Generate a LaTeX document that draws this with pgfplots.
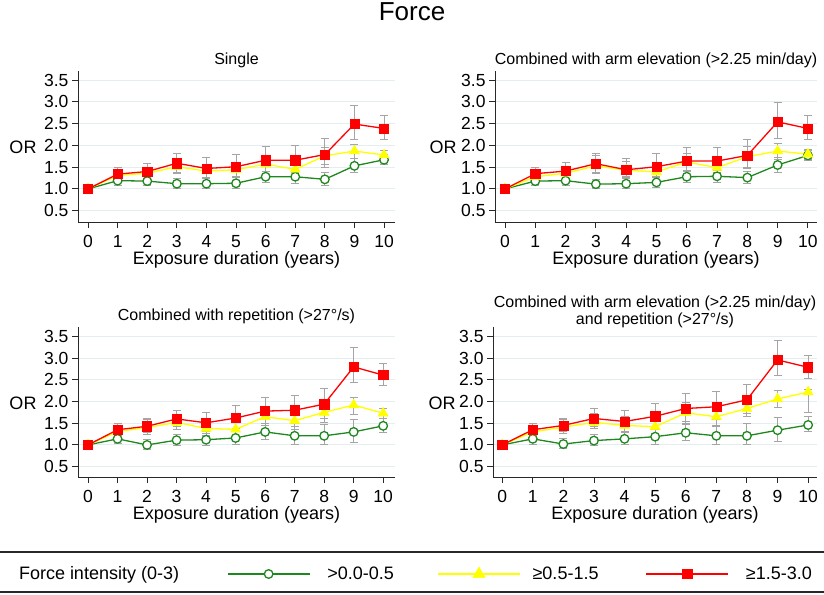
\documentclass[border=0pt]{standalone}
\usepackage{fontspec}
\setmainfont{Liberation Sans}
\usepackage{pgfplots}
\pgfplotsset{compat=1.18}
\usepackage{pgfplotstable}

\definecolor{sgreen}{RGB}{30,135,30}
\definecolor{syellow}{RGB}{255,255,0}
\definecolor{sred}{RGB}{255,0,0}
\definecolor{errgray}{RGB}{165,165,165}
\definecolor{gridc}{RGB}{228,237,240}
\definecolor{axisc}{RGB}{40,40,40}

\pgfplotstableread{
x g glo ghi y ylo yhi r rlo rhi
0 1.00 1.00 1.00 1.00 1.00 1.00 1.00 1.00 1.00
1 1.19 1.09 1.30 1.31 1.20 1.44 1.34 1.20 1.49
2 1.18 1.08 1.29 1.36 1.23 1.50 1.40 1.25 1.59
3 1.12 1.01 1.23 1.51 1.36 1.66 1.59 1.38 1.81
4 1.12 1.01 1.24 1.41 1.27 1.57 1.47 1.27 1.72
5 1.13 1.01 1.27 1.44 1.29 1.60 1.51 1.28 1.80
6 1.28 1.15 1.41 1.57 1.41 1.75 1.66 1.40 1.98
7 1.28 1.13 1.41 1.45 1.30 1.62 1.66 1.38 2.00
8 1.22 1.08 1.38 1.76 1.56 1.96 1.79 1.50 2.16
9 1.53 1.37 1.70 1.87 1.69 2.03 2.49 2.14 2.92
10 1.67 1.56 1.80 1.78 1.66 1.88 2.39 2.13 2.69
}\tabA

\pgfplotstableread{
x g glo ghi y ylo yhi r rlo rhi
0 1.00 1.00 1.00 1.00 1.00 1.00 1.00 1.00 1.00
1 1.18 1.08 1.28 1.28 1.18 1.42 1.35 1.22 1.50
2 1.19 1.09 1.30 1.36 1.24 1.52 1.41 1.25 1.60
3 1.11 1.00 1.22 1.53 1.36 1.76 1.58 1.38 1.81
4 1.12 1.02 1.23 1.43 1.28 1.62 1.44 1.26 1.70
5 1.15 1.03 1.27 1.39 1.26 1.56 1.51 1.28 1.81
6 1.28 1.14 1.42 1.62 1.42 1.82 1.64 1.40 1.96
7 1.29 1.15 1.43 1.49 1.32 1.68 1.64 1.38 1.96
8 1.26 1.12 1.40 1.74 1.50 1.98 1.77 1.48 2.13
9 1.55 1.39 1.72 1.87 1.68 2.04 2.54 2.17 2.99
10 1.77 1.66 1.88 1.80 1.68 1.90 2.39 2.13 2.69
}\tabB

\pgfplotstableread{
x g glo ghi y ylo yhi r rlo rhi
0 1.00 1.00 1.00 1.00 1.00 1.00 1.00 1.00 1.00
1 1.14 1.04 1.26 1.31 1.18 1.45 1.35 1.22 1.49
2 1.00 0.90 1.12 1.40 1.24 1.58 1.43 1.28 1.60
3 1.11 0.98 1.24 1.52 1.36 1.68 1.60 1.42 1.80
4 1.12 0.98 1.26 1.38 1.22 1.60 1.51 1.30 1.76
5 1.16 1.00 1.32 1.36 1.20 1.58 1.62 1.38 1.91
6 1.30 1.12 1.50 1.65 1.45 1.87 1.78 1.50 2.10
7 1.21 1.02 1.42 1.56 1.36 1.80 1.80 1.50 2.15
8 1.21 1.00 1.47 1.75 1.52 2.00 1.94 1.62 2.31
9 1.30 1.06 1.58 1.92 1.70 2.10 2.80 2.43 3.24
10 1.44 1.28 1.60 1.73 1.60 1.85 2.61 2.37 2.89
}\tabC

\pgfplotstableread{
x g glo ghi y ylo yhi r rlo rhi
0 1.00 1.00 1.00 1.00 1.00 1.00 1.00 1.00 1.00
1 1.14 1.02 1.26 1.30 1.18 1.45 1.35 1.22 1.49
2 1.02 0.92 1.14 1.41 1.26 1.58 1.45 1.30 1.62
3 1.10 0.98 1.24 1.52 1.38 1.72 1.61 1.42 1.84
4 1.14 1.00 1.28 1.45 1.30 1.65 1.54 1.32 1.79
5 1.19 1.02 1.36 1.42 1.26 1.62 1.66 1.40 1.96
6 1.28 1.10 1.48 1.74 1.50 1.98 1.84 1.55 2.18
7 1.21 1.02 1.43 1.65 1.46 1.90 1.88 1.58 2.23
8 1.21 1.00 1.49 1.84 1.66 2.08 2.04 1.72 2.40
9 1.34 1.08 1.64 2.06 1.86 2.25 2.96 2.60 3.41
10 1.46 1.30 1.66 2.22 1.76 2.28 2.79 2.54 3.07
}\tabD

\pgfplotsset{
  panel/.style={
    scale only axis, anchor=south west,
    axis x line*=bottom, axis y line*=left,
    axis line style={-, draw=axisc, line width=0.9bp},
    xtick={0,...,10}, ytick={0.5,1,1.5,2,2.5,3,3.5},
    tick align=outside, major tick length=6bp,
    tick style={draw=axisc, line width=0.9bp},
    ymajorgrids, grid style={draw=gridc, line width=1bp},
    /pgf/number format/assume math mode=true,
    yticklabel style={/pgf/number format/.cd, fixed, fixed zerofill, precision=1},
    tick label style={font=\fontsize{17.5bp}{20bp}\selectfont},
    xticklabel style={yshift=-3.5bp},
    label style={font=\fontsize{18bp}{21bp}\selectfont},
    xlabel={Exposure duration (years)},
    xlabel style={at={(axis description cs:0.5,0)}, anchor=center, yshift=-38bp},
    ylabel={OR},
    ylabel style={rotate=-90, at={(axis description cs:0,0.5)}, anchor=center, xshift=-55bp, yshift=-1bp},
    title style={font=\fontsize{16bp}{17bp}\selectfont, at={(axis description cs:0.5,1)}, anchor=center, yshift=5bp, align=center},
    clip=false,
  },
  ebar/.style={forget plot, draw=none, mark=none,
    error bars/.cd, y dir=both, y explicit,
    error bar style={draw=errgray, line width=0.9bp, solid},
    error mark options={rotate=90, draw=errgray, mark size=4bp, line width=0.9bp}},
  gline/.style={draw=sgreen, line width=1.3bp, mark=*, mark size=4.3bp,
    mark options={fill=white, draw=sgreen, line width=1.3bp}},
  yline/.style={draw=syellow, line width=1.3bp, mark=triangle*, mark size=5.8bp,
    mark options={fill=syellow, draw=syellow, line width=0.5bp}},
  rline/.style={draw=sred, line width=1.3bp, mark=square*, mark size=4.6bp,
    mark options={fill=sred, draw=sred, line width=0.5bp}},
}

\newcommand{\panelplots}[1]{%
  \addplot[ebar] table[x=x, y=g, y error plus expr=\thisrow{ghi}-\thisrow{g}, y error minus expr=\thisrow{g}-\thisrow{glo}] {#1};
  \addplot[ebar] table[x=x, y=y, y error plus expr=\thisrow{yhi}-\thisrow{y}, y error minus expr=\thisrow{y}-\thisrow{ylo}] {#1};
  \addplot[ebar] table[x=x, y=r, y error plus expr=\thisrow{rhi}-\thisrow{r}, y error minus expr=\thisrow{r}-\thisrow{rlo}] {#1};
  \addplot[gline, forget plot] table[x=x, y=g] {#1};
  \addplot[yline, forget plot] table[x=x, y=y] {#1};
  \addplot[rline, forget plot] table[x=x, y=r] {#1};
}

\begin{document}
\begin{tikzpicture}
\path[use as bounding box] (0,0) rectangle (824bp,595bp);

\node[font=\fontsize{26bp}{30bp}\selectfont] at (412bp,583bp) {Force};

\begin{axis}[panel, at={(78bp,373bp)}, width=317bp, height=151bp,
  xmin=-0.34, xmax=10.37, ymin=0.24, ymax=3.71, title={Single}]
\panelplots{\tabA}
\end{axis}

\begin{axis}[panel, at={(495bp,373bp)}, width=322bp, height=151bp,
  xmin=-0.33, xmax=10.30, ymin=0.24, ymax=3.71,
  ylabel style={xshift=3bp},
  title={Combined with arm elevation (>2.25 min/day)}]
\panelplots{\tabB}
\end{axis}

\begin{axis}[panel, at={(78bp,118bp)}, width=317bp, height=150bp,
  xmin=-0.34, xmax=10.40, ymin=0.26, ymax=3.72,
  title={Combined with repetition (>27°/s)},
  legend columns=4,
  legend cell align=left,
  legend style={at={(-0.1861,-0.6467)}, anchor=west, draw=none, fill=none,
    inner sep=0pt, outer sep=0pt, font=\fontsize{18bp}{21bp}\selectfont,
    /tikz/column sep=0pt, nodes={inner sep=0pt, outer sep=0pt}},
  legend image code/.code={\draw[mark repeat=2, mark phase=2, #1] plot coordinates {(0bp,0bp) (41bp,0bp) (82bp,0bp)};},
  legend entries={\makebox[208bp][l]{Force intensity (0-3)},
    \makebox[127bp][l]{\hspace{17bp}>0.0-0.5},
    \makebox[125bp][l]{\hspace{12bp}≥0.5-1.5},
    \makebox[90bp][l]{\hspace{17bp}≥1.5-3.0}}]
\addlegendimage{empty legend}
\addlegendimage{draw=sgreen, line width=1.3bp, mark=*, mark size=4.3bp, mark options={fill=white, draw=sgreen, line width=1.3bp}}
\addlegendimage{draw=syellow, line width=1.3bp, mark=triangle*, mark size=7bp, mark options={fill=syellow, draw=syellow, line width=0.5bp}}
\addlegendimage{draw=sred, line width=1.3bp, mark=square*, mark size=4.6bp, mark options={fill=sred, draw=sred, line width=0.5bp}}
\panelplots{\tabC}
\end{axis}

\begin{axis}[panel, at={(493bp,118bp)}, width=324bp, height=150bp,
  xmin=-0.30, xmax=10.29, ymin=0.26, ymax=3.72,
  ylabel style={xshift=4bp},
  title style={yshift=4.5bp},
  title={Combined with arm elevation (>2.25 min/day)\\and repetition (>27°/s)}]
\panelplots{\tabD}
\end{axis}

\draw[draw=axisc, line width=1.3bp] (0bp,43bp) -- (824bp,43bp);
\draw[draw=axisc, line width=1.3bp] (0bp,3bp) -- (824bp,3bp);
\end{tikzpicture}
\end{document}
